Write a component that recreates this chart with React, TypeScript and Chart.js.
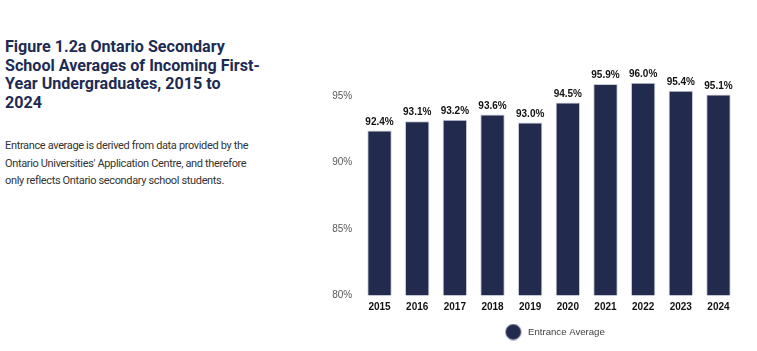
import React, { useEffect, useRef } from "react";
import { Chart, registerables } from "chart.js";

Chart.register(...registerables);

const years = ["2015", "2016", "2017", "2018", "2019", "2020", "2021", "2022", "2023", "2024"];
const entranceAverage = [92.4, 93.1, 93.2, 93.6, 93.0, 94.5, 95.9, 96.0, 95.4, 95.1];
const seriesName = "Entrance Average";
const yTicks = [80, 85, 90, 95];

const NAVY = "#222A4D";
const FONT = "'Liberation Sans', Arial, sans-serif";

const valueLabels = {
  id: "valueLabels",
  afterDatasetsDraw(chart: any) {
    const ctx = chart.ctx;
    const meta = chart.getDatasetMeta(0);
    ctx.save();
    ctx.font = "bold 10px " + FONT;
    ctx.fillStyle = "#111";
    ctx.textAlign = "center";
    ctx.textBaseline = "alphabetic";
    meta.data.forEach((bar: any, i: number) => {
      ctx.fillText(entranceAverage[i].toFixed(1) + "%", bar.x, bar.y - 6);
    });
    ctx.restore();
  },
};

// nudges the legend a little to the right, as in the reference
const legendNudge = {
  id: "legendNudge",
  afterLayout(chart: any) {
    const lg = chart.legend;
    if (lg) {
      lg.left += 5;
      lg.right += 5;
    }
  },
};

function makeDot() {
  const c = document.createElement("canvas");
  c.width = 17;
  c.height = 17;
  const g = c.getContext("2d")!;
  g.beginPath();
  g.arc(8.5, 8.5, 8, 0, Math.PI * 2);
  g.fillStyle = NAVY;
  g.fill();
  g.lineWidth = 1;
  g.strokeStyle = "#C9CCDA";
  g.stroke();
  return c;
}

function BarChart() {
  const ref = useRef<HTMLCanvasElement>(null);
  useEffect(() => {
    const dot = makeDot();
    const chart = new Chart(ref.current!, {
      type: "bar",
      data: {
        labels: years,
        datasets: [
          {
            label: seriesName,
            data: entranceAverage,
            backgroundColor: NAVY,
            borderColor: "#C9CCDA",
            borderWidth: 1,
            pointStyle: dot as any,
            categoryPercentage: 0.8,
            barPercentage: 0.81,
          } as any,
        ],
      },
      options: {
        responsive: false,
        animation: false,
        layout: { padding: { top: 29.5, right: 19.7, bottom: 4.2, left: 0 } },
        plugins: {
          tooltip: { enabled: false },
          legend: {
            position: "bottom",
            fullSize: false,
            labels: {
              usePointStyle: true,
              pointStyleWidth: 20,
              color: "#404040",
              font: { family: FONT, size: 9.6 },
              padding: 8.9,
            },
          },
        },
        scales: {
          x: {
            grid: { display: false, drawTicks: false },
            border: { display: false },
            ticks: {
              color: "#111",
              padding: 5.5,
              font: { family: FONT, size: 10, weight: "bold" },
            },
          },
          y: {
            min: 80,
            max: 100,
            afterBuildTicks: (scale: any) => {
              scale.ticks = yTicks.map((v) => ({ value: v }));
            },
            afterFit: (scale: any) => {
              scale.width = 40.7;
            },
            grid: { display: false, drawTicks: false },
            border: { display: false },
            ticks: {
              color: "#595959",
              padding: 8.5,
              font: { family: FONT, size: 10 },
              callback: (v: any) => v + "%",
            },
          },
        },
      },
      plugins: [valueLabels, legendNudge],
    });
    return () => chart.destroy();
  }, []);
  return <canvas ref={ref} width={437} height={351} style={{ position: "absolute", left: 320, top: 0, width: 437, height: 351 }} />;
}

export default function App() {
  return (
    <div style={{ position: "fixed", left: 0, top: 0, width: 757, height: 351, background: "#fff", overflow: "hidden" }}>
      <div
        style={{
          position: "absolute",
          left: 5,
          top: 38,
          width: 300,
          fontFamily: "Roboto, 'Liberation Sans', sans-serif",
          fontWeight: 700,
          fontSize: 16.1,
          lineHeight: "18.5px",
          color: "#1D2B53",
          whiteSpace: "nowrap",
        }}
      >
        Figure 1.2a Ontario Secondary
        <br />
        School Averages of Incoming First-
        <br />
        Year Undergraduates, 2015 to
        <br />
        2024
      </div>
      <div
        style={{
          position: "absolute",
          left: 5,
          top: 137,
          width: 300,
          fontFamily: "Roboto, 'Liberation Sans', sans-serif",
          fontSize: 11,
          letterSpacing: -0.35,
          lineHeight: "17.5px",
          color: "#333",
          whiteSpace: "nowrap",
        }}
      >
        Entrance average is derived from data provided by the
        <br />
        Ontario Universities' Application Centre, and therefore
        <br />
        only reflects Ontario secondary school students.
      </div>
      <BarChart />
    </div>
  );
}
